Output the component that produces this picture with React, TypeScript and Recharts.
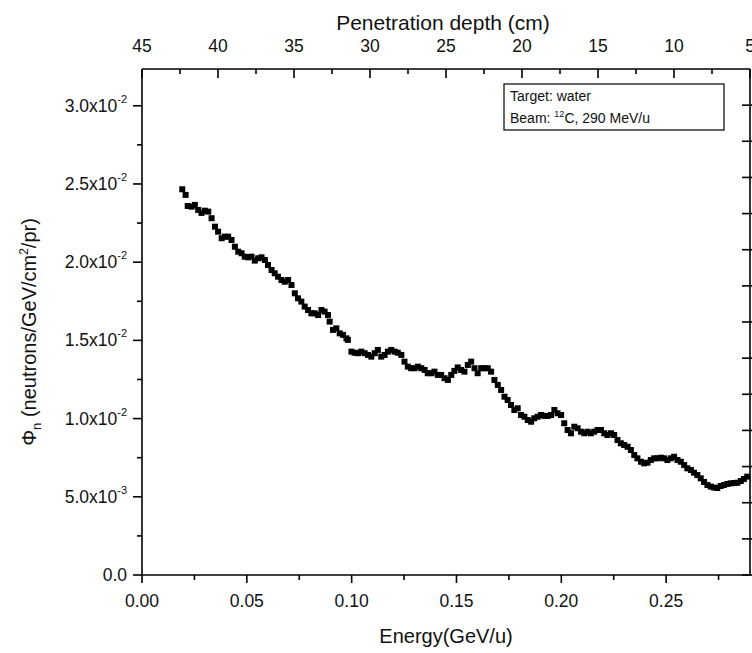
import React from 'react';
import { ScatterChart, Scatter, XAxis, YAxis } from 'recharts';

const FONT = '"Liberation Sans", Arial, Helvetica, sans-serif';

// Energy (GeV/u) of each measured point
const energy: number[] = [
  0.0192, 0.0208, 0.0218, 0.0237, 0.0252, 0.0268, 0.0284, 0.0300, 0.0316, 0.0332,
  0.0348, 0.0363, 0.0380, 0.0395, 0.0411, 0.0427, 0.0443, 0.0459, 0.0475, 0.0490,
  0.0506, 0.0522, 0.0538, 0.0554, 0.0570, 0.0586, 0.0601, 0.0618, 0.0633, 0.0649,
  0.0665, 0.0681, 0.0697, 0.0713, 0.0729, 0.0744, 0.0760, 0.0776, 0.0792, 0.0808,
  0.0824, 0.0840, 0.0856, 0.0871, 0.0887, 0.0895, 0.0911, 0.0927, 0.0943, 0.0959,
  0.0975, 0.0982,
  0.0999, 0.1014, 0.1030, 0.1046, 0.1062, 0.1078, 0.1094, 0.1110, 0.1125, 0.1141,
  0.1157, 0.1173, 0.1189, 0.1205, 0.1220, 0.1237, 0.1252, 0.1268, 0.1284, 0.1300,
  0.1316, 0.1332, 0.1348, 0.1363, 0.1380, 0.1395, 0.1411, 0.1427, 0.1443, 0.1459,
  0.1475, 0.1490, 0.1506, 0.1522, 0.1538, 0.1554, 0.1570, 0.1586, 0.1601, 0.1618,
  0.1633, 0.1649, 0.1665, 0.1681, 0.1697, 0.1713, 0.1729, 0.1744, 0.1760, 0.1776,
  0.1792, 0.1808, 0.1824, 0.1840, 0.1856, 0.1871, 0.1887, 0.1903, 0.1919, 0.1935,
  0.1951, 0.1967, 0.1982, 0.1999, 0.2014, 0.2030, 0.2046, 0.2062, 0.2078, 0.2094,
  0.2110, 0.2125, 0.2141, 0.2157, 0.2173, 0.2189, 0.2205, 0.2220, 0.2237, 0.2252,
  0.2268, 0.2284, 0.2300, 0.2316, 0.2332, 0.2348, 0.2363, 0.2380, 0.2395, 0.2411,
  0.2427, 0.2443, 0.2459, 0.2475, 0.2490, 0.2506, 0.2522, 0.2538, 0.2554, 0.2570,
  0.2586, 0.2601, 0.2618, 0.2633, 0.2649, 0.2665, 0.2681, 0.2697, 0.2713, 0.2729,
  0.2744, 0.2760, 0.2776, 0.2792, 0.2808, 0.2824, 0.2840, 0.2856, 0.2871, 0.2887,
];

// Neutron fluence Phi_n (neutrons/GeV/cm^2/pr)
const flux: number[] = [
  0.02466, 0.02430, 0.02359, 0.02355, 0.02366, 0.02334, 0.02315, 0.02329, 0.02323, 0.02281,
  0.02227, 0.02195, 0.02153, 0.02163, 0.02163, 0.02142, 0.02099, 0.02067, 0.02057, 0.02035,
  0.02031, 0.02035, 0.02010, 0.02025, 0.02031, 0.02014, 0.01982, 0.01950, 0.01929, 0.01907,
  0.01886, 0.01875, 0.01886, 0.01854, 0.01801, 0.01769, 0.01748, 0.01716, 0.01694, 0.01673,
  0.01673, 0.01662, 0.01694, 0.01684, 0.01662, 0.01620, 0.01567, 0.01577, 0.01545, 0.01535,
  0.01513, 0.01503,
  0.01428, 0.01421, 0.01418, 0.01428, 0.01418, 0.01407, 0.01396, 0.01418, 0.01439, 0.01396,
  0.01407, 0.01428, 0.01439, 0.01428, 0.01421, 0.01407, 0.01364, 0.01332, 0.01322, 0.01322,
  0.01332, 0.01322, 0.01311, 0.01290, 0.01290, 0.01300, 0.01279, 0.01279, 0.01258, 0.01247,
  0.01279, 0.01305, 0.01327, 0.01311, 0.01300, 0.01343, 0.01364, 0.01322, 0.01290, 0.01322,
  0.01322, 0.01322, 0.01300, 0.01247, 0.01215, 0.01183, 0.01140, 0.01119, 0.01087, 0.01055,
  0.01066, 0.01023, 0.01012, 0.00991, 0.00980, 0.01002, 0.01012, 0.01023, 0.01017, 0.01017,
  0.01023, 0.01055, 0.01034, 0.01023, 0.00970, 0.00927, 0.00906, 0.00948, 0.00938, 0.00916,
  0.00906, 0.00916, 0.00906, 0.00916, 0.00927, 0.00927, 0.00906, 0.00895, 0.00906, 0.00895,
  0.00863, 0.00842, 0.00831, 0.00820, 0.00799, 0.00767, 0.00746, 0.00724, 0.00714, 0.00718,
  0.00735, 0.00746, 0.00746, 0.00750, 0.00746, 0.00735, 0.00746, 0.00756, 0.00735, 0.00724,
  0.00703, 0.00682, 0.00671, 0.00654, 0.00639, 0.00618, 0.00595, 0.00575, 0.00565, 0.00559,
  0.00556, 0.00569, 0.00575, 0.00582, 0.00586, 0.00588, 0.00590, 0.00601, 0.00614, 0.00629,
];

// Tick values (majors labelled, minors unlabelled)
const energyTicks = [0, 0.025, 0.05, 0.075, 0.1, 0.125, 0.15, 0.175, 0.2, 0.225, 0.25, 0.275];
const fluxTicks = [0, 0.0025, 0.005, 0.0075, 0.01, 0.0125, 0.015, 0.0175, 0.02, 0.0225, 0.025, 0.0275, 0.03];
const depthTicks = [45, 42.5, 40, 37.5, 35, 32.5, 30, 27.5, 25, 22.5, 20, 17.5, 15, 12.5, 10, 7.5, 5];
const rightTicks = [0, 1, 2, 3, 4, 5, 6, 7, 8, 9, 10, 11, 12, 13];

const points = energy.map((e, i) => ({ e, f: flux[i] }));
// invisible anchors so the top (depth) and right axes get a scale
const frameAnchors = [
  { d: 45, r: 0 },
  { d: 5, r: 13 },
];

const isMajor = (v: number, step: number) => {
  const r = v / step;
  return Math.abs(r - Math.round(r)) < 1e-6;
};

const SW = 1.6;
const TICK_FS = 17.5;

const BottomTick = (props: any) => {
  const { x, y, payload } = props;
  const v = payload.value as number;
  const major = isMajor(v, 0.05);
  return (
    <g>
      <line x1={x} x2={x} y1={y} y2={y + (major ? 8 : 5)} stroke="#000" strokeWidth={SW} />
      {major && (
        <text x={x} y={y + 32} textAnchor="middle" fontSize={TICK_FS} fontFamily={FONT} fill="#111">
          {v.toFixed(2)}
        </text>
      )}
    </g>
  );
};

const TopTick = (props: any) => {
  const { x, y, payload } = props;
  const v = payload.value as number;
  const major = isMajor(v, 5);
  return (
    <g>
      <line x1={x} x2={x} y1={y} y2={y + (major ? 9 : 5)} stroke="#000" strokeWidth={SW} />
      {major && (
        <text x={x} y={y - 17} textAnchor="middle" fontSize={TICK_FS} fontFamily={FONT} fill="#111">
          {String(v)}
        </text>
      )}
    </g>
  );
};

const fluxLabel = (v: number) => {
  if (v === 0) return { m: '0.0', e: '' };
  const e = Math.floor(Math.log10(v) + 1e-9);
  const m = v / Math.pow(10, e);
  return { m: m.toFixed(1) + 'x10', e: String(e) };
};

const LeftTick = (props: any) => {
  const { x, y, payload } = props;
  const v = payload.value as number;
  const major = isMajor(v, 0.005);
  const lab = fluxLabel(v);
  return (
    <g>
      <line x1={x - (major ? 9 : 5)} x2={x} y1={y} y2={y} stroke="#000" strokeWidth={SW} />
      {major && (
        <text x={x - 15} y={y + 6} textAnchor="end" fontSize={TICK_FS} fontFamily={FONT} fill="#111">
          {lab.m}
          {lab.e && (
            <tspan fontSize={11} dy={-9}>
              {lab.e}
            </tspan>
          )}
        </text>
      )}
    </g>
  );
};

const RightTick = (props: any) => {
  const { x, y } = props;
  return <line x1={x - 8} x2={x + 2} y1={y} y2={y} stroke="#000" strokeWidth={SW} />;
};

const Square = (props: any) => {
  const { cx, cy } = props;
  if (cx == null || cy == null) return null;
  return <rect x={cx - 3} y={cy - 3} width={6} height={6} fill="#000" />;
};

const Nothing = () => <g />;

const axisLine = { stroke: '#000', strokeWidth: SW };

export default function App() {
  return (
    <div style={{ position: 'absolute', left: 0, top: 0, width: 752, height: 653, background: '#fff' }}>
      <ScatterChart width={752} height={653} margin={{ top: 0, right: 0, bottom: 0, left: 0 }}>
        <XAxis
          xAxisId="e"
          dataKey="e"
          type="number"
          orientation="bottom"
          domain={[0, 0.29]}
          ticks={energyTicks}
          interval={0}
          height={78}
          tickLine={false}
          tickSize={0}
          tickMargin={0}
          axisLine={axisLine}
          tick={<BottomTick />}
        />
        <XAxis
          xAxisId="depth"
          dataKey="d"
          type="number"
          orientation="top"
          domain={[5, 45]}
          reversed
          ticks={depthTicks}
          interval={0}
          height={69}
          tickLine={false}
          tickSize={0}
          tickMargin={0}
          axisLine={axisLine}
          tick={<TopTick />}
        />
        <YAxis
          yAxisId="f"
          dataKey="f"
          type="number"
          orientation="left"
          domain={[0, 0.03235]}
          ticks={fluxTicks}
          interval={0}
          width={142}
          tickLine={false}
          tickSize={0}
          tickMargin={0}
          axisLine={axisLine}
          tick={<LeftTick />}
        />
        <YAxis
          yAxisId="r"
          dataKey="r"
          type="number"
          orientation="right"
          domain={[0, 14]}
          ticks={rightTicks}
          interval={0}
          width={2}
          tickLine={false}
          tickSize={0}
          tickMargin={0}
          axisLine={axisLine}
          tick={<RightTick />}
        />
        <Scatter
          xAxisId="depth"
          yAxisId="r"
          data={frameAnchors}
          shape={<Nothing />}
          isAnimationActive={false}
        />
        <Scatter
          xAxisId="e"
          yAxisId="f"
          data={points}
          shape={<Square />}
          isAnimationActive={false}
        />
      </ScatterChart>
      <svg
        width={752}
        height={653}
        style={{ position: 'absolute', left: 0, top: 0, pointerEvents: 'none' }}
      >
        <text x={443} y={30} textAnchor="middle" fontSize={21} fontFamily={FONT} fill="#111">
          Penetration depth (cm)
        </text>
        <text x={446} y={643} textAnchor="middle" fontSize={20} fontFamily={FONT} fill="#111">
          Energy(GeV/u)
        </text>
        <text
          x={36}
          y={332}
          transform="rotate(-90 36 332)"
          textAnchor="middle"
          fontSize={20}
          fontFamily={FONT}
          fill="#111"
        >
          Φ
          <tspan fontSize={13} dy={5}>n</tspan>
          <tspan dy={-5}> (neutrons/GeV/cm</tspan>
          <tspan fontSize={12} dy={-8}>2</tspan>
          <tspan dy={8}>/pr)</tspan>
        </text>
        <rect x={504} y={84} width={220} height={46} fill="#fff" stroke="#000" strokeWidth={1.2} />
        <text x={510} y={101} fontSize={14} fontFamily={FONT} fill="#111">
          Target: water
        </text>
        <text x={510} y={123} fontSize={14} fontFamily={FONT} fill="#111">
          Beam: <tspan fontSize={9} dy={-6}>12</tspan>
          <tspan dy={6}>C, 290 MeV/u</tspan>
        </text>
      </svg>
    </div>
  );
}
